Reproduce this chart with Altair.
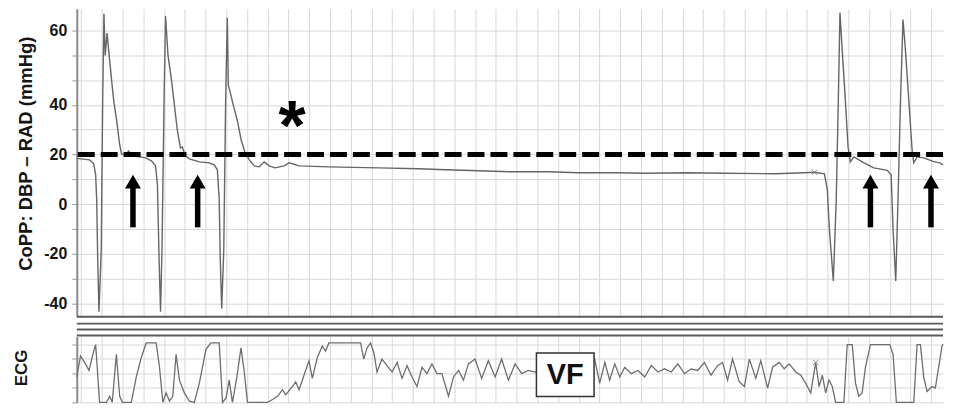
import altair as alt
import pandas as pd

FONT = "Liberation Sans"
W, H_TOP, H_SEP, H_ECG = 869, 308, 19, 66

# CoPP trace: time (grid units) and pressure (mmHg)
copp_t = [0.79, 1.41, 1.61, 1.70, 1.75, 1.80, 1.86, 1.97, 2.04, 2.10,
          2.16, 2.25, 2.33, 2.47, 2.57, 2.71, 2.86, 2.95, 3.14, 3.29,
          3.43, 3.82, 4.11, 4.39, 4.59, 4.68, 4.76, 4.83, 4.90, 5.00,
          5.07, 5.12, 5.19, 5.36, 5.50, 5.64, 5.79, 5.88, 6.03, 6.22,
          6.70, 7.18, 7.42, 7.57, 7.66, 7.71, 7.78, 7.88, 7.97, 8.05,
          8.10, 8.19, 8.34, 8.53, 8.72, 8.91, 9.11, 9.35, 9.59, 9.83,
          10.07, 10.36, 10.79, 11.03, 11.51, 12.95, 15.36, 17.28, 18.58, 20.16,
          21.75, 23.53, 24.97, 26.89, 28.19, 30.26, 32.04, 34.44, 35.88, 36.37,
          36.85, 36.99, 37.09, 37.28, 37.42, 37.52, 37.60, 37.71, 37.86, 37.99,
          38.10, 38.27, 38.76, 39.23, 39.88, 40.07, 40.16, 40.29, 40.40, 40.52,
          40.64, 40.76, 40.92, 41.08, 41.16, 41.32, 41.64, 42.12, 42.42, 42.57]
copp_v = [18.4, 17.8, 16.2, 11.8, 1.8, -22.2, -43.4, -18.2, 41.2, 64.6,
          53.3, 59.3, 54.6, 46.6, 41.2, 33.8, 23.8, 20.2, 19.8, 21.4,
          19.4, 19.0, 18.6, 17.4, 15.4, 7.8, -22.2, -43.4, -18.2, 41.2,
          64.0, 59.6, 53.3, 46.6, 39.8, 29.8, 22.6, 23.0, 19.4, 18.2,
          17.0, 16.6, 15.8, 13.8, 1.8, -22.2, -42.2, -18.2, 41.2, 63.5,
          45.2, 43.4, 39.8, 33.8, 25.8, 20.6, 17.8, 15.4, 15.0, 17.0,
          15.4, 14.6, 15.4, 16.6, 15.4, 15.0, 14.6, 14.2, 13.8, 13.4,
          13.0, 13.0, 12.6, 12.6, 12.4, 12.6, 12.4, 12.2, 12.6, 12.8,
          12.2, 5.8, -10.2, -31.0, 1.8, 41.2, 64.9, 54.6, 41.2, 23.0,
          17.0, 19.0, 16.6, 14.6, 13.6, 11.8, -10.2, -31.0, 1.8, 41.2,
          63.0, 54.6, 41.2, 21.8, 16.6, 19.0, 18.6, 17.1, 16.6, 15.8]

# ECG trace: time (grid units) and amplitude (grid units)
ecg_t = [0.79, 0.97, 1.17, 1.38, 1.57, 1.70, 1.89, 2.22, 2.38, 2.50,
         2.70, 2.86, 2.99, 3.42, 3.66, 3.90, 4.14, 4.62, 4.78, 4.94,
         5.10, 5.26, 5.42, 5.58, 5.74, 5.98, 6.22, 6.46, 6.70, 7.02,
         7.26, 7.66, 7.82, 7.99, 8.14, 8.30, 8.50, 8.71, 8.87, 9.02,
         9.99, 10.23, 10.47, 10.71, 10.87, 11.19, 11.35, 11.51, 11.75, 11.99,
         12.15, 12.39, 12.63, 12.79, 12.95, 14.48, 14.63, 14.79, 14.96, 15.12,
         15.27, 15.51, 15.75, 16.00, 16.24, 16.48, 16.72, 16.96, 17.20, 17.44,
         17.68, 17.92, 18.16, 18.40, 18.72, 18.96, 19.20, 19.44, 19.68, 20.00,
         20.32, 20.64, 20.97, 21.28, 21.61, 21.93, 22.25, 22.57, 22.89, 23.53,
         24.25, 24.97, 25.77, 26.01, 26.26, 26.49, 26.74, 26.98, 27.22, 27.53,
         27.86, 28.18, 28.50, 28.82, 29.14, 29.46, 29.78, 30.10, 30.42, 30.74,
         31.06, 31.38, 31.70, 31.94, 32.18, 32.42, 32.74, 32.99, 33.23, 33.54,
         33.78, 34.11, 34.35, 34.67, 34.91, 35.15, 35.47, 35.71, 35.95, 36.19,
         36.43, 36.59, 36.75, 36.91, 37.07, 37.23, 37.39, 37.79, 37.95, 38.19,
         38.35, 38.51, 38.67, 38.83, 39.07, 40.00, 40.16, 40.32, 41.16, 41.32,
         41.48, 41.64, 41.80, 42.04, 42.20, 42.36, 42.52, 42.57]
ecg_v = [1.75, 3.2, 2.75, 2.2, 3.33, 3.98, 0, 0, 0.42, 0,
         3.31, 0.42, 0, 0, 1.75, 3.09, 4.09, 4.09, 2.42, 0,
         0.65, 0.09, 0.42, 3.31, 1.53, 0.65, 0.09, 0, 1.31, 3.65,
         4.09, 4.09, 0, 0.31, 1.53, 0, 1.65, 3.75, 2.09, 0,
         0, 0.2, 0.42, 0.87, 0.53, 1.09, 1.42, 0.87, 1.87, 2.87,
         1.65, 3.09, 3.87, 3.53, 4.09, 4.09, 2.98, 3.75, 4.09, 3.42,
         2.09, 2.98, 2.53, 2.09, 2.75, 1.65, 2.53, 1.75, 1.09, 2.42,
         1.98, 2.65, 1.98, 1.98, 0.42, 1.75, 2.2, 1.53, 2.65, 2.98,
         1.65, 2.87, 1.75, 2.98, 1.53, 2.65, 1.98, 2.2, 2.09, 2.5,
         1.9, 2.7, 2.98, 1.31, 2.75, 1.53, 2.65, 1.75, 2.42, 1.98,
         2.2, 1.75, 2.53, 2.09, 2.31, 2.09, 2.65, 1.98, 2.31, 2.2,
         2.75, 1.87, 2.53, 2.75, 1.53, 2.98, 1.42, 1.09, 2.98, 1.65,
         2.87, 0.98, 2.42, 2.75, 2.31, 2.65, 2.09, 1.87, 1.31, 0.65,
         2.75, 1.09, 1.87, 0.65, 1.53, 1.09, 0, 0, 3.98, 3.98,
         1.31, 0.42, 0.65, 2.42, 3.98, 3.98, 3.31, 0, 0, 3.98,
         3.98, 1.75, 0.75, 1.09, 0.98, 2.42, 3.87, 4.0]

threshold = [20]
arrow_t = [3.50, 6.62, 39.07, 41.99]
arrow_base = [-9.4, -9.4, -9.4, -9.4]
arrow_neck = [6.8, 6.8, 6.8, 6.8]
arrow_head = [9.0, 9.0, 9.0, 9.0]
star_t, star_v = [11.17], [36.2]
copp_mark_t, copp_mark_v = [36.37], [12.8]
ecg_mark_t, ecg_mark_v = [36.43], [2.75]
vf_t, vf_t2, vf_v, vf_v2 = [22.96], [25.74], [0.4], [3.4]
vf_label_t, vf_label_v = [24.35], [1.9]
sep_levels = [0, 7, 13, 19]
y_tick_values = [-40, -30, -20, -10, 0, 10, 20, 30, 40, 46.6, 53.4, 60]
y_label_values = [-40, -20, 0, 20, 40, 60]
ecg_ticks = [0, 1, 2, 3, 4]
grid_t = list(range(1, 43))

GRID = "#d8d8d8"
TXT = "#151515"

x_scale = alt.Scale(domain=[0.79, 42.57], nice=False, zero=False)
x_axis = alt.Axis(values=grid_t, labels=False, ticks=False, domain=False,
                  grid=True, gridColor=GRID, gridWidth=1, title=None)
X = alt.X("t:Q", scale=x_scale, axis=x_axis)

label_list = ",".join(str(v) for v in y_label_values)
y_top_scale = alt.Scale(domain=[-45, 40, 60, 66], range=[H_TOP, 96.5, 22, 0],
                        nice=False, zero=False)
y_top_axis = alt.Axis(
    values=y_tick_values,
    labelExpr=f"indexof([{label_list}], datum.value) >= 0 ? '' + datum.value : ''",
    labelFont=FONT, labelFontSize=16, labelFontWeight="bold", labelColor=TXT,
    labelPadding=5, tickSize=5, tickColor="#9a9a9a",
    domainColor="#8a8a8a", domainWidth=2,
    grid=True, gridColor=GRID, gridWidth=1,
    title="CoPP: DBP \u2013 RAD (mmHg)", titleFont=FONT, titleFontSize=18.5,
    titleFontWeight="bold", titleColor=TXT, titleX=-45.5, titleY=145,
    titleBaseline="alphabetic", titleAlign="center")
Y_TOP = alt.Y("v:Q", scale=y_top_scale, axis=y_top_axis)

df_copp = pd.DataFrame({"t": copp_t, "v": copp_v})
df_thr = pd.DataFrame({"v": threshold})
df_arrow = pd.DataFrame({"t": arrow_t, "v": arrow_base, "v2": arrow_neck})
df_head = pd.DataFrame({"t": arrow_t, "v": arrow_head})
df_star = pd.DataFrame({"t": star_t, "v": star_v})
df_cm = pd.DataFrame({"t": copp_mark_t, "v": copp_mark_v})

XSHAPE = "M-1,-1L1,1M-1,1L1,-1"

top = alt.layer(
    alt.Chart(df_copp).mark_line(color="#666666", strokeWidth=1.4).encode(x=X, y=Y_TOP),
    alt.Chart(df_thr).mark_rule(color="black", strokeWidth=5, strokeDash=[17, 6]).encode(y=Y_TOP),
    alt.Chart(df_arrow).mark_rule(color="black", strokeWidth=5.5).encode(x=X, y=Y_TOP, y2="v2:Q"),
    alt.Chart(df_head).mark_point(shape="triangle-up", filled=True, size=256,
                                  color="black", opacity=1).encode(x=X, y=Y_TOP),
    alt.Chart(df_star).mark_text(text="*", font=FONT, fontSize=70, fontWeight="bold",
                                 baseline="alphabetic", dy=36, color="black").encode(x=X, y=Y_TOP),
    alt.Chart(df_cm).mark_point(shape=XSHAPE, size=30, filled=False, color="#888",
                                strokeWidth=1, opacity=1).encode(x=X, y=Y_TOP),
).properties(width=W, height=H_TOP)

sep = alt.Chart(pd.DataFrame({"p": sep_levels})).mark_rule(
    color="#5a5a5a", strokeWidth=2
).encode(
    y=alt.Y("p:Q", scale=alt.Scale(domain=[0, 19], reverse=True, nice=False, zero=False), axis=None)
).properties(width=W, height=H_SEP)

y_ecg_axis = alt.Axis(values=ecg_ticks, labels=False, tickSize=5, tickColor="#9a9a9a",
                      domainColor="#8a8a8a", domainWidth=2, grid=True, gridColor=GRID,
                      gridWidth=1, title="ECG", titleFont=FONT, titleFontSize=17,
                      titleFontWeight="bold", titleColor=TXT, titleX=-50, titleY=31,
                      titleBaseline="alphabetic", titleAlign="center")
Y_ECG = alt.Y("v:Q", scale=alt.Scale(domain=[0, 4.53], nice=False, zero=False), axis=y_ecg_axis)

df_ecg = pd.DataFrame({"t": ecg_t, "v": ecg_v})
df_vf = pd.DataFrame({"t": vf_t, "t2": vf_t2, "v": vf_v, "v2": vf_v2})
df_vfl = pd.DataFrame({"t": vf_label_t, "v": vf_label_v})
df_em = pd.DataFrame({"t": ecg_mark_t, "v": ecg_mark_v})

ecg = alt.layer(
    alt.Chart(df_ecg).mark_line(color="#6e6e6e", strokeWidth=1.3).encode(x=X, y=Y_ECG),
    alt.Chart(df_vf).mark_rect(fill="white", stroke="#333333", strokeWidth=1.5).encode(
        x=X, x2="t2:Q", y=Y_ECG, y2="v2:Q"),
    alt.Chart(df_vfl).mark_text(text="VF", font=FONT, fontSize=29, fontWeight="bold",
                                color="#111111", baseline="middle", align="center").encode(x=X, y=Y_ECG),
    alt.Chart(df_em).mark_point(shape=XSHAPE, size=30, filled=False, color="#888",
                                strokeWidth=1, opacity=1).encode(x=X, y=Y_ECG),
).properties(width=W, height=H_ECG)

chart = alt.vconcat(top, sep, ecg, spacing=0).properties(
    padding={"left": 5, "top": 0, "right": 0, "bottom": 0}
).configure(font=FONT).configure_view(strokeWidth=0)

chart.save("out.html", embed_options={"renderer": "svg", "actions": False})
